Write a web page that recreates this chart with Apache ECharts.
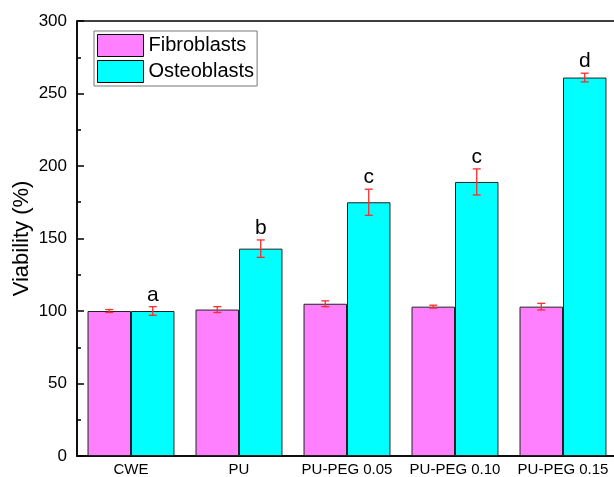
<!DOCTYPE html>
<html>
<head>
<meta charset="utf-8">
<script src="https://cdn.jsdelivr.net/npm/echarts@6/dist/echarts.min.js"></script>
<style>html,body{margin:0;padding:0;background:#fff}#c{width:614px;height:477px}</style>
</head>
<body>
<div id="c"></div>
<script>
const categories = ['CWE', 'PU', 'PU-PEG 0.05', 'PU-PEG 0.10', 'PU-PEG 0.15'];
const fibroblasts = [100, 101, 105, 103, 103];
const osteoblasts = [100, 143, 175, 189, 261];
const fibroErr = [1, 2, 2, 1, 2.3];
const osteoErr = [3, 6, 9, 9, 3];
const osteoLetters = ['a', 'b', 'c', 'c', 'd'];
const yTicks = { min: 0, max: 300, interval: 50 };

const FONT = 'Liberation Sans, Arial, sans-serif';
const GAP = 0.195;

function errSeries(name, values, errs, sign, letters) {
  return {
    type: 'custom',
    name: name + ' err',
    z: 10,
    data: values.map((v, i) => [i, v, errs[i]]),
    renderItem: function (params, api) {
      const i = api.value(0), v = api.value(1), e = api.value(2);
      const band = api.size([1, 0])[0];
      const off = sign * band * (1 - GAP) / 4;
      const top = api.coord([i, v + e]);
      const bot = api.coord([i, v - e]);
      const x = top[0] + off;
      const cap = 4;
      const st = { stroke: '#ff2a2a', lineWidth: 1.3 };
      const children = [
        { type: 'line', shape: { x1: x, y1: top[1], x2: x, y2: bot[1] }, style: st },
        { type: 'line', shape: { x1: x - cap, y1: top[1], x2: x + cap, y2: top[1] }, style: st },
        { type: 'line', shape: { x1: x - cap, y1: bot[1], x2: x + cap, y2: bot[1] }, style: st }
      ];
      if (letters) {
        children.push({
          type: 'text',
          style: {
            text: letters[params.dataIndex], x: x, y: top[1] - 1,
            align: 'center', verticalAlign: 'bottom',
            fontSize: 21, fontFamily: FONT, fill: '#000'
          }
        });
      }
      return { type: 'group', children: children };
    }
  };
}

const chart = echarts.init(document.getElementById('c'), null, { renderer: 'canvas' });
chart.setOption({
  animation: false,
  backgroundColor: '#fff',
  grid: { left: 77, top: 21, width: 540, height: 435, show: true, borderColor: '#000', borderWidth: 1.5,
    backgroundColor: 'transparent', containLabel: false, outerBoundsMode: 'none' },
  legend: {
    data: ['Fibroblasts', 'Osteoblasts'],
    orient: 'vertical', left: 94, top: 31,
    padding: 3, itemGap: 3, itemWidth: 46, itemHeight: 22,
    borderColor: '#777', borderWidth: 1,
    icon: 'rect',
    textStyle: { fontSize: 20, fontFamily: FONT, color: '#000', padding: [0, 0, 0, 0] },
    itemStyle: { borderColor: '#000', borderWidth: 1 }
  },
  xAxis: {
    type: 'category', data: categories,
    axisLine: { lineStyle: { color: '#000', width: 1.5 } },
    axisTick: { alignWithLabel: true, inside: true, length: 5, lineStyle: { color: '#000', width: 1.5 } },
    axisLabel: { interval: 0, fontSize: 15, fontFamily: FONT, color: '#000', margin: 6, hideOverlap: false },
    splitLine: { show: false }
  },
  yAxis: {
    type: 'value', min: yTicks.min, max: yTicks.max, interval: yTicks.interval,
    name: 'Viability (%)', nameLocation: 'middle', nameGap: 44, nameRotate: 90, nameMoveOverlap: false,
    nameTextStyle: { fontSize: 22, fontFamily: FONT, color: '#000' },
    axisLine: { show: true, lineStyle: { color: '#000', width: 1.5 } },
    axisTick: { show: true, inside: true, length: 7, lineStyle: { color: '#000', width: 1.5 } },
    minorTick: { show: true, splitNumber: 2, length: 4, lineStyle: { color: '#000', width: 1.5 } },
    axisLabel: { fontSize: 17, fontFamily: FONT, color: '#000', margin: 10 },
    splitLine: { show: false }
  },
  series: [
    { type: 'bar', name: 'Fibroblasts', data: fibroblasts, barGap: '0%', barCategoryGap: (GAP * 100) + '%',
      itemStyle: { color: '#ff80ff', borderColor: '#222', borderWidth: 1 } },
    { type: 'bar', name: 'Osteoblasts', data: osteoblasts, barGap: '0%', barCategoryGap: (GAP * 100) + '%',
      itemStyle: { color: '#00ffff', borderColor: '#222', borderWidth: 1 } },
    errSeries('Fibroblasts', fibroblasts, fibroErr, -1, null),
    errSeries('Osteoblasts', osteoblasts, osteoErr, 1, osteoLetters)
  ]
});
</script>
</body>
</html>
